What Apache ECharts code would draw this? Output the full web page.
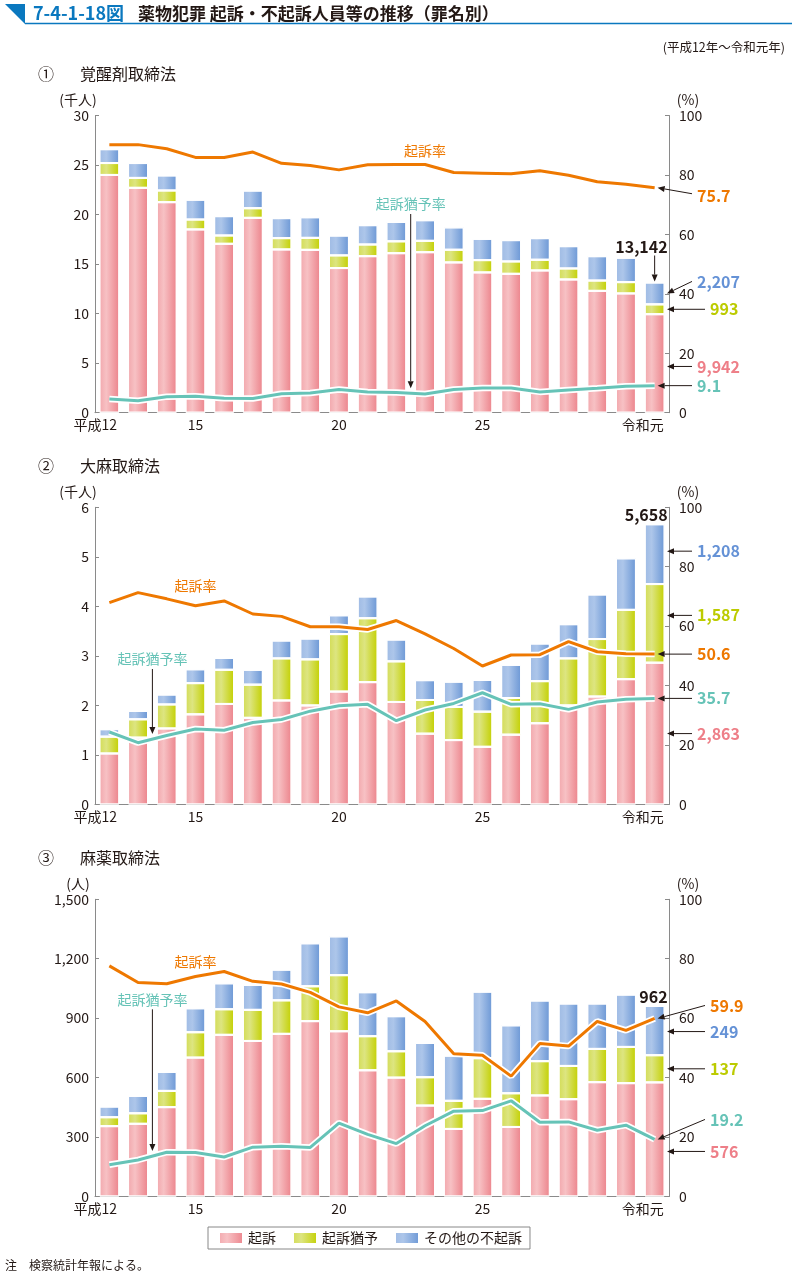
<!DOCTYPE html>
<html><head><meta charset="utf-8">
<script src="https://cdn.jsdelivr.net/npm/echarts/dist/echarts.min.js"></script>
<style>html,body{margin:0;padding:0;background:#fff}#c{width:792px;height:1275px}</style>
</head><body><div id="c"></div>
<script>
// ---------- data ----------
const categories = ['平成12','13','14','15','16','17','18','19','20','21','22','23','24','25','26','27','28','29','30','令和元'];
const shownLabels = [0, 3, 8, 13, 19];

// ① 覚醒剤取締法 (千人)
const stimKiso  = [24.0, 22.7, 21.25, 18.5, 17.05, 19.67, 16.48, 16.44, 14.6, 15.8, 16.1, 16.2, 15.17, 14.16, 14.02, 14.36, 13.45, 12.3, 12.04, 9.942];
const stimYuyo  = [1.2, 1.0, 1.18, 1.0, 0.84, 0.97, 1.14, 1.21, 1.28, 1.18, 1.2, 1.15, 1.28, 1.24, 1.25, 1.08, 1.11, 1.04, 1.14, 0.993];
const stimOther = [1.4, 1.5, 1.52, 2.0, 1.95, 1.78, 2.02, 2.08, 2.0, 1.95, 1.95, 2.08, 2.26, 2.15, 2.15, 2.18, 2.25, 2.46, 2.46, 2.207];
const stimKisoRate = [90.2, 90.2, 88.8, 85.9, 85.9, 87.7, 83.9, 83.2, 81.7, 83.4, 83.5, 83.5, 80.8, 80.6, 80.4, 81.4, 79.9, 77.7, 76.9, 75.7];
const stimYuyoRate = [4.6, 4.0, 5.4, 5.5, 4.9, 4.8, 6.4, 6.6, 7.8, 7.0, 6.8, 6.3, 7.8, 8.3, 8.3, 7.0, 7.6, 8.2, 8.9, 9.1];

// ② 大麻取締法 (千人)
const canKiso  = [1.03, 1.35, 1.535, 1.82, 2.03, 1.75, 2.10, 2.0, 2.28, 2.47, 2.07, 1.43, 1.30, 1.165, 1.41, 1.64, 2.0, 2.18, 2.53, 2.863];
const canYuyo  = [0.34, 0.37, 0.485, 0.63, 0.69, 0.67, 0.85, 0.93, 1.16, 1.29, 0.82, 0.68, 0.67, 0.71, 0.74, 0.85, 0.95, 1.16, 1.40, 1.587];
const canOther = [0.15, 0.17, 0.2, 0.28, 0.24, 0.30, 0.36, 0.42, 0.38, 0.44, 0.44, 0.40, 0.51, 0.64, 0.67, 0.76, 0.69, 0.90, 1.04, 1.208];
const canKisoRate = [67.9, 71.3, 69.2, 66.9, 68.5, 64.1, 63.3, 59.8, 59.8, 58.9, 61.9, 57.4, 52.5, 46.6, 50.3, 50.4, 54.8, 51.4, 50.7, 50.6];
const canYuyoRate = [24.4, 20.8, 23.2, 25.4, 25.0, 27.6, 28.6, 31.4, 33.2, 33.7, 28.2, 31.8, 34.0, 37.6, 33.7, 33.9, 32.0, 34.5, 35.4, 35.7];

// ③ 麻薬取締法 (人)
const narKiso  = [355, 367, 451, 701, 816, 785, 821, 885, 834, 637, 600, 459, 341, 493, 351, 510, 491, 577, 572, 576];
const narYuyo  = [45, 53, 82, 128, 129, 157, 169, 176, 283, 172, 133, 143, 142, 205, 170, 173, 168, 168, 183, 137];
const narOther = [54, 88, 96, 121, 131, 126, 155, 217, 196, 222, 177, 173, 228, 336, 343, 306, 315, 229, 264, 249];
const narKisoRate = [77.6, 72.0, 71.6, 74.0, 75.7, 72.4, 71.5, 68.7, 63.8, 61.8, 65.8, 58.9, 48.0, 47.5, 40.5, 51.5, 50.6, 58.9, 55.9, 59.9];
const narYuyoRate = [10.7, 12.3, 14.9, 14.8, 13.3, 16.6, 16.9, 16.5, 24.7, 20.9, 17.8, 23.8, 28.7, 28.9, 32.2, 25.0, 25.1, 22.3, 24.0, 19.2];

const leftTicks1 = [0, 30, 5];
const leftTicks2 = [0, 6, 1];
const leftTicks3 = [0, 1500, 300];
const rightTicks = [0, 100, 20];

// ---------- styles ----------
const FONT = "'Noto Sans CJK JP','Noto Sans',sans-serif";
const TXT = '#231815';
const AXC = '#8a8a8a';
const BLUE_T = '#0a78bf';
const ORANGE = '#ee7800', TEAL = '#66c3b7';
const LBL_PINK = '#ee7f88', LBL_GREEN = '#bccb00', LBL_BLUE = '#6592d6';
const G = echarts.graphic.LinearGradient;
const gPink  = new G(0,0,1,0,[{offset:0,color:'#f2a7ac'},{offset:0.35,color:'#f7c1c4'},{offset:1,color:'#ec838b'}]);
const gGreen = new G(0,0,1,0,[{offset:0,color:'#d3dc55'},{offset:0.35,color:'#dde581'},{offset:1,color:'#c3d000'}]);
const gBlue  = new G(0,0,1,0,[{offset:0,color:'#9fbbe4'},{offset:0.35,color:'#adc6ea'},{offset:1,color:'#6b97d5'}]);

const GL = 95, GW = 574, GH = 297.2;
const tops = [115.5, 507.3, 899.3];

const sets = [
  {kiso: stimKiso, yuyo: stimYuyo, other: stimOther, kr: stimKisoRate, yr: stimYuyoRate, ticks: leftTicks1, unit: '(千人)', title: '覚醒剤取締法', no: '①', k: 1000},
  {kiso: canKiso, yuyo: canYuyo, other: canOther, kr: canKisoRate, yr: canYuyoRate, ticks: leftTicks2, unit: '(千人)', title: '大麻取締法', no: '②', k: 1000},
  {kiso: narKiso, yuyo: narYuyo, other: narOther, kr: narKisoRate, yr: narYuyoRate, ticks: leftTicks3, unit: '(人)', title: '麻薬取締法', no: '③', k: 1}
];

const chart = echarts.init(document.getElementById('c'), null, {renderer: 'canvas'});
const grid = [], xAxis = [], yAxis = [], series = [];
sets.forEach((s, i) => {
  grid.push({left: GL, top: tops[i], width: GW, height: GH, outerBoundsMode: 'none', containLabel: false});
  xAxis.push({
    type: 'category', gridIndex: i, data: categories, boundaryGap: true,
    axisLine: {show: true, lineStyle: {color: AXC, width: 1}},
    axisTick: {show: false},
    axisLabel: {
      interval: (idx) => shownLabels.indexOf(idx) >= 0,
      margin: 5, fontSize: 14, color: TXT, fontFamily: FONT,
      formatter: (v, idx) => idx === 0 ? '{a|' + v + '}' : (idx === 19 ? '{b|' + v + '}' : v),
      rich: {
        a: {padding: [0, 28, 0, 0], fontSize: 14, color: TXT, fontFamily: FONT},
        b: {padding: [0, 24, 0, 0], fontSize: 14, color: TXT, fontFamily: FONT}
      }
    },
    splitLine: {show: false}
  });
  yAxis.push({
    type: 'value', gridIndex: i, min: s.ticks[0], max: s.ticks[1], interval: s.ticks[2],
    axisLine: {show: true, lineStyle: {color: AXC, width: 1}},
    axisTick: {show: true, inside: true, length: 4, lineStyle: {color: AXC}},
    axisLabel: {margin: 6, fontSize: 14, color: TXT, fontFamily: FONT,
      formatter: v => v.toLocaleString('en-US')},
    splitLine: {show: false}
  });
  yAxis.push({
    type: 'value', gridIndex: i, position: 'right', min: rightTicks[0], max: rightTicks[1], interval: rightTicks[2],
    axisLine: {show: true, lineStyle: {color: AXC, width: 1}},
    axisTick: {show: true, inside: true, length: 4, lineStyle: {color: AXC}},
    axisLabel: {margin: 10, fontSize: 14, color: TXT, fontFamily: FONT},
    splitLine: {show: false}
  });
  const bar = (name, data, color) => ({
    name, type: 'bar', xAxisIndex: i, yAxisIndex: 2 * i, stack: 'st' + i, data, barWidth: 20,
    itemStyle: {color, borderColor: '#fff', borderWidth: 1}, z: 2
  });
  series.push(bar('起訴', s.kiso, gPink));
  series.push(bar('起訴猶予', s.yuyo, gGreen));
  series.push(bar('その他の不起訴', s.other, gBlue));
  const line = (name, data, color, width, z) => ({
    name, type: 'line', xAxisIndex: i, yAxisIndex: 2 * i + 1, data, symbol: 'none', silent: true,
    lineStyle: {color, width}, z
  });
  series.push(line('h1_' + i, s.kr, '#ffffff', 6.5, 3));
  series.push(line('h2_' + i, s.yr, '#ffffff', 6.5, 3));
  series.push(line('起訴率' + i, s.kr, ORANGE, 3, 4));
  series.push(line('起訴猶予率' + i, s.yr, TEAL, 3, 4));
});

chart.setOption({
  animation: false,
  backgroundColor: '#fff',
  textStyle: {fontFamily: FONT},
  grid, xAxis, yAxis, series,
  legend: {
    data: ['起訴', '起訴猶予', 'その他の不起訴'],
    left: 208, top: 1227, orient: 'horizontal',
    padding: [4, 8, 4, 10], itemGap: 16, itemWidth: 24, itemHeight: 12,
    borderColor: '#888', borderWidth: 1, icon: 'rect',
    textStyle: {fontSize: 14, color: TXT, fontFamily: FONT}
  }
});

// ---------- annotations ----------
const P = (si, idx, v) => chart.convertToPixel({seriesIndex: si}, [idx, v]);
const gr = [];
const text = (x, y, t, o) => gr.push({type: 'text', x, y, z: 100, silent: true, style: Object.assign({
  text: t, fill: TXT, fontSize: 14, fontFamily: FONT, align: 'left', verticalAlign: 'middle'}, o || {})});
const arrow = (x1, y1, x2, y2) => {
  const a = Math.atan2(y2 - y1, x2 - x1), L = 7, W = 3;
  const bx = x2 - L * Math.cos(a), by = y2 - L * Math.sin(a);
  gr.push({type: 'line', z: 100, silent: true, shape: {x1, y1, x2: bx, y2: by}, style: {stroke: TXT, lineWidth: 1}});
  gr.push({type: 'polygon', z: 100, silent: true, shape: {points: [[x2, y2], [bx + W * Math.sin(a), by - W * Math.cos(a)], [bx - W * Math.sin(a), by + W * Math.cos(a)]]}, style: {fill: TXT}});
};

// title block
gr.push({type: 'polygon', z: 100, shape: {points: [[5, 4], [25, 4], [25, 24]]}, style: {fill: BLUE_T}});
gr.push({type: 'line', z: 100, shape: {x1: 25, y1: 23.5, x2: 792, y2: 23.5}, style: {stroke: BLUE_T, lineWidth: 1.5}});
text(33, 13.5, '7-4-1-18図', {fill: BLUE_T, fontSize: 18, fontWeight: 'bold'});
text(138, 13.5, '薬物犯罪 起訴・不起訴人員等の推移（罪名別）', {fontSize: 17, fontWeight: 'bold'});
text(785, 47, '(平成12年～令和元年)', {fontSize: 12.5, align: 'right'});
text(5, 1265, '注　検察統計年報による。', {fontSize: 12});

const last = 19;
sets.forEach((s, i) => {
  const top = tops[i];
  const base = i * 7;
  text(38, top - 41.5, s.no, {fontSize: 16});
  text(80, top - 41.5, s.title, {fontSize: 16});
  text(78, top - 15.5, s.unit, {fontSize: 14, align: 'center'});
  text(688, top - 15.5, '(%)', {fontSize: 14, align: 'center'});

  const k = s.kiso[last], y = s.yuyo[last], o = s.other[last], tot = k + y + o;
  const fmt = v => Math.round(v * s.k).toLocaleString('en-US');
  const pTot = P(base, last, tot);
  const bx = pTot[0];
  const axX = GL + GW - 2;
  const yMidPink = P(base, last, k / 2)[1];
  const yMidGreen = P(base, last, k + y / 2)[1];
  const yMidBlue = P(base, last, k + y + o / 2)[1];
  const pKr = P(base + 5, last, s.kr[last]);
  const pYr = P(base + 6, last, s.yr[last]);
  const num = (x, yy, t, c) => text(x, yy, t, {fill: c, fontSize: 16, fontWeight: 'bold'});

  // rate labels on lines
  const krLabelIdx = i === 0 ? 11 : 3;
  const krOff = i === 0 ? -14 : (i === 1 ? -20 : -15);
  const pk = P(base + 5, krLabelIdx, s.kr[krLabelIdx]);
  text(pk[0], pk[1] + krOff, '起訴率', {fill: ORANGE, align: 'center'});
  const yrArrowIdx = i === 0 ? 11 : 2; // arrow at boundary before this category
  const xB = (P(base, yrArrowIdx - 1, 0)[0] + P(base, yrArrowIdx, 0)[0]) / 2;
  const yrAtB = (P(base + 6, yrArrowIdx - 1, s.yr[yrArrowIdx - 1])[1] + P(base + 6, yrArrowIdx, s.yr[yrArrowIdx])[1]) / 2;
  const yrLabelY = i === 0 ? top + 88.5 : (i === 1 ? top + 151.7 : top + 100);
  text(xB, yrLabelY, '起訴猶予率', {fill: TEAL, align: 'center'});
  arrow(xB, yrLabelY + 10, xB, yrAtB - 5);

  // total
  if (i === 0) {
    num(bx + 13, pTot[1] - 36, fmt(tot), TXT);
    arrow(bx, pTot[1] - 27, bx, pTot[1] - 1);
    text(697, pKr[1] + 8, s.kr[last].toFixed(1), {fill: ORANGE, fontSize: 16, fontWeight: 'bold'});
    arrow(692, pKr[1] + 6, pKr[0] + 3, pKr[1]);
    num(697, yMidBlue - 12, fmt(o), LBL_BLUE); arrow(692, yMidBlue - 12, axX, yMidBlue);
    num(710, yMidGreen, fmt(y), LBL_GREEN); arrow(705, yMidGreen, axX, yMidGreen);
    num(697, yMidPink + 3, fmt(k), LBL_PINK); arrow(692, yMidPink + 3, axX, yMidPink + 3);
    num(697, pYr[1], s.yr[last].toFixed(1), TEAL); arrow(692, pYr[1], pYr[0] + 3, pYr[1]);
  } else if (i === 1) {
    text(bx + 13, pTot[1] - 9, fmt(tot), {fill: TXT, fontSize: 16, fontWeight: 'bold', align: 'right'});
    num(697, yMidBlue - 3, fmt(o), LBL_BLUE); arrow(692, yMidBlue - 3, axX, yMidBlue - 3);
    num(697, yMidGreen - 8, fmt(y), LBL_GREEN); arrow(692, yMidGreen - 8, axX, yMidGreen - 8);
    num(697, pKr[1], s.kr[last].toFixed(1), ORANGE); arrow(692, pKr[1], pKr[0] + 3, pKr[1]);
    num(697, pYr[1], s.yr[last].toFixed(1), TEAL); arrow(692, pYr[1], pYr[0] + 3, pYr[1]);
    num(697, yMidPink, fmt(k), LBL_PINK); arrow(692, yMidPink, axX, yMidPink);
  } else {
    text(bx + 13, pTot[1] - 9, fmt(tot), {fill: TXT, fontSize: 16, fontWeight: 'bold', align: 'right'});
    num(710, pKr[1] - 13, s.kr[last].toFixed(1), ORANGE); arrow(705, pKr[1] - 13, pKr[0] + 3, pKr[1]);
    num(710, yMidBlue + 1, fmt(o), LBL_BLUE); arrow(705, yMidBlue + 1, axX, yMidBlue + 1);
    num(710, yMidGreen, fmt(y), LBL_GREEN); arrow(705, yMidGreen, axX, yMidGreen);
    num(710, pYr[1] - 20, s.yr[last].toFixed(1), TEAL); arrow(705, pYr[1] - 20, pYr[0] + 3, pYr[1]);
    num(710, yMidPink + 12, fmt(k), LBL_PINK); arrow(705, yMidPink + 12, axX, yMidPink + 12);
  }
});
// fix: chart-1 total text should be right aligned
gr.forEach(g => { if (g.type === 'text' && g.style.text === '13,142') g.style.align = 'right'; });

chart.setOption({graphic: gr});
</script></body></html>
